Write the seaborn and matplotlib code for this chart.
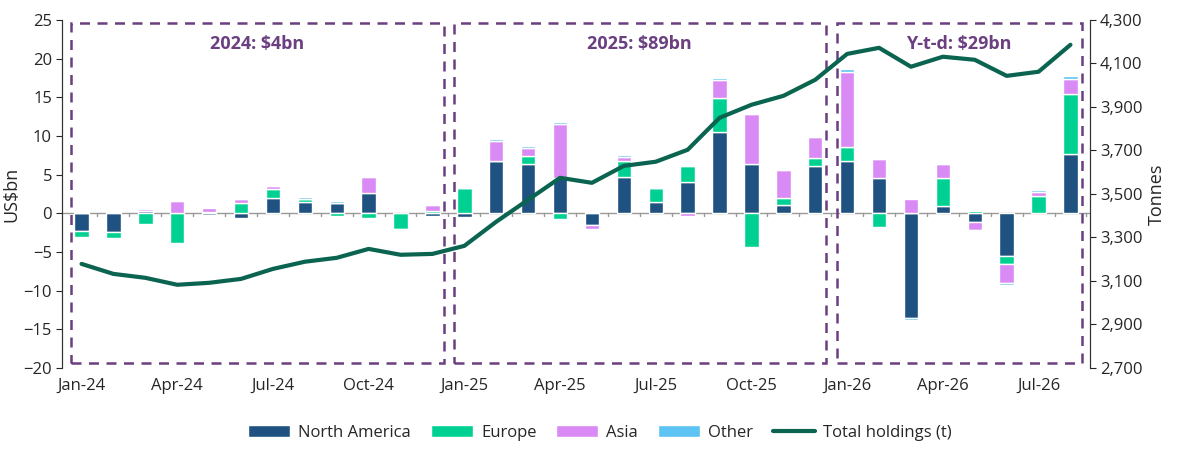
import numpy as np
import pandas as pd
import seaborn as sns
import matplotlib.pyplot as plt
from matplotlib.patches import Rectangle
import matplotlib.transforms as mtransforms

months = pd.date_range("2024-01-01", "2026-08-01", freq="MS").strftime("%b-%y").tolist()

north_america = [-2.3, -2.4, 0.3, 0.0, -0.2, -0.6, 2.0, 1.4, 1.3, 2.6, 0.0, -0.4,
                 -0.5, 6.7, 6.4, 4.5, -1.5, 4.7, 1.4, 4.1, 10.5, 6.4, 1.0, 6.1,
                 6.7, 4.6, -13.6, 0.9, -1.1, -5.5, 0.0, 7.6]
europe = [-0.8, -0.8, -1.4, -3.8, 0.2, 1.3, 1.1, 0.4, -0.3, -0.6, -2.0, 0.3,
          3.3, 0.1, 1.0, -0.8, 0.2, 2.0, 1.8, 2.0, 4.4, -4.4, 1.0, 1.0,
          1.9, -1.8, 0.0, 3.6, 0.3, -1.1, 2.2, 7.8]
asia = [0.0, 0.1, 0.3, 1.6, 0.5, 0.6, 0.4, 0.0, 0.0, 2.1, 0.0, 0.8,
        0.0, 2.6, 1.1, 7.1, -0.6, 0.6, 0.0, -0.4, 2.4, 6.4, 3.6, 2.7,
        9.7, 2.4, 1.9, 1.9, -1.1, -2.4, 0.6, 2.0]
other = [0.2, 0.1, 0.1, 0.0, -0.1, 0.1, 0.2, 0.3, 0.3, 0.1, -0.1, 0.1,
         0.15, 0.2, 0.2, 0.25, 0.0, 0.2, 0.1, 0.0, 0.2, 0.1, 0.0, 0.2,
         0.3, 0.1, -0.2, 0.1, -0.15, -0.3, 0.15, 0.3]
total_holdings = [3178, 3132, 3114, 3082, 3091, 3109, 3155, 3188, 3206, 3247, 3220, 3224,
                  3261, 3372, 3473, 3574, 3551, 3629, 3648, 3703, 3850, 3910, 3951, 4025,
                  4144, 4172, 4085, 4131, 4117, 4043, 4062, 4186]

periods = ["2024: $4bn", "2025: $89bn", "Y-t-d: $29bn"]
period_spans = [(0, 11), (12, 23), (24, 31)]

series = {"North America": north_america, "Europe": europe, "Asia": asia, "Other": other}
colors = {"North America": "#1f5280", "Europe": "#00d192", "Asia": "#d98af5", "Other": "#5cc3f2"}
line_color = "#0b6450"
purple = "#6b3f80"

sns.set_style("white")
plt.rcParams["font.family"] = ["Open Sans", "DejaVu Sans"]

fig = plt.figure(figsize=(12, 4.65), dpi=100)
ax = fig.add_axes([0.052, 0.209, 0.856, 0.748])
ax2 = ax.twinx()

x = np.arange(len(months))
pos_bottom = np.zeros(len(months))
neg_bottom = np.zeros(len(months))
for name, vals in series.items():
    v = np.array(vals, dtype=float)
    bottom = np.where(v >= 0, pos_bottom, neg_bottom)
    ax.bar(x, v, bottom=bottom, width=0.45, color=colors[name], label=name, zorder=2)
    pos_bottom += np.where(v >= 0, v, 0)
    neg_bottom += np.where(v < 0, v, 0)

ax.axhline(0, color="#999999", lw=1, zorder=1)
for xi in x:
    ax.plot([xi + 0.5, xi + 0.5], [0, -0.4], color="#999999", lw=1, zorder=1)

df = pd.DataFrame({"x": x, "t": total_holdings})
sns.lineplot(data=df, x="x", y="t", ax=ax2, color=line_color, lw=3, label="Total holdings (t)", legend=False)

ax.set_ylim(-20, 25)
ax.set_yticks(range(-20, 26, 5))
ax2.set_ylim(2700, 4300)
ax2.set_yticks(range(2700, 4301, 200))
ax2.set_yticklabels([f"{v:,}" for v in range(2700, 4301, 200)])
ax.set_xlim(-0.6, 31.6)
ax.set_xticks(x[::3])
ax.set_xticklabels(months[::3])
ax.set_ylabel("US$bn", fontsize=13, labelpad=2)
ax2.set_ylabel("Tonnes", fontsize=13)
ax2.set_xlabel("")
for a in (ax, ax2):
    a.tick_params(labelsize=12, length=4, left=True, right=True, bottom=False)
    a.spines["top"].set_visible(False)
    a.spines["bottom"].set_visible(False)
    a.spines["left"].set_color("#333333")
    a.spines["right"].set_color("#333333")
ax.tick_params(axis="y", right=False)
ax2.tick_params(axis="y", left=False)

trans = mtransforms.blended_transform_factory(ax.transData, ax.transAxes)
for label, (s, e) in zip(periods, period_spans):
    rect = Rectangle((s - 0.32, 0.015), e - s + 0.67, 0.975, transform=trans, fill=False,
                     ec=purple, ls=(0, (4, 3)), lw=1.8, clip_on=False, zorder=5)
    ax.add_patch(rect)
    ax.text((s + e) / 2, 0.93, label, transform=trans, ha="center", va="center",
            color=purple, fontsize=13, fontweight="bold")

h1, l1 = ax.get_legend_handles_labels()
h2, l2 = ax2.get_legend_handles_labels()
fig.legend(h1 + h2, l1 + l2, loc="lower center", ncol=5, frameon=False, fontsize=12,
           bbox_to_anchor=(0.5, 0.02), handlelength=2.5, columnspacing=1.2, handletextpad=0.5)

fig.savefig("out.png", dpi=100)
